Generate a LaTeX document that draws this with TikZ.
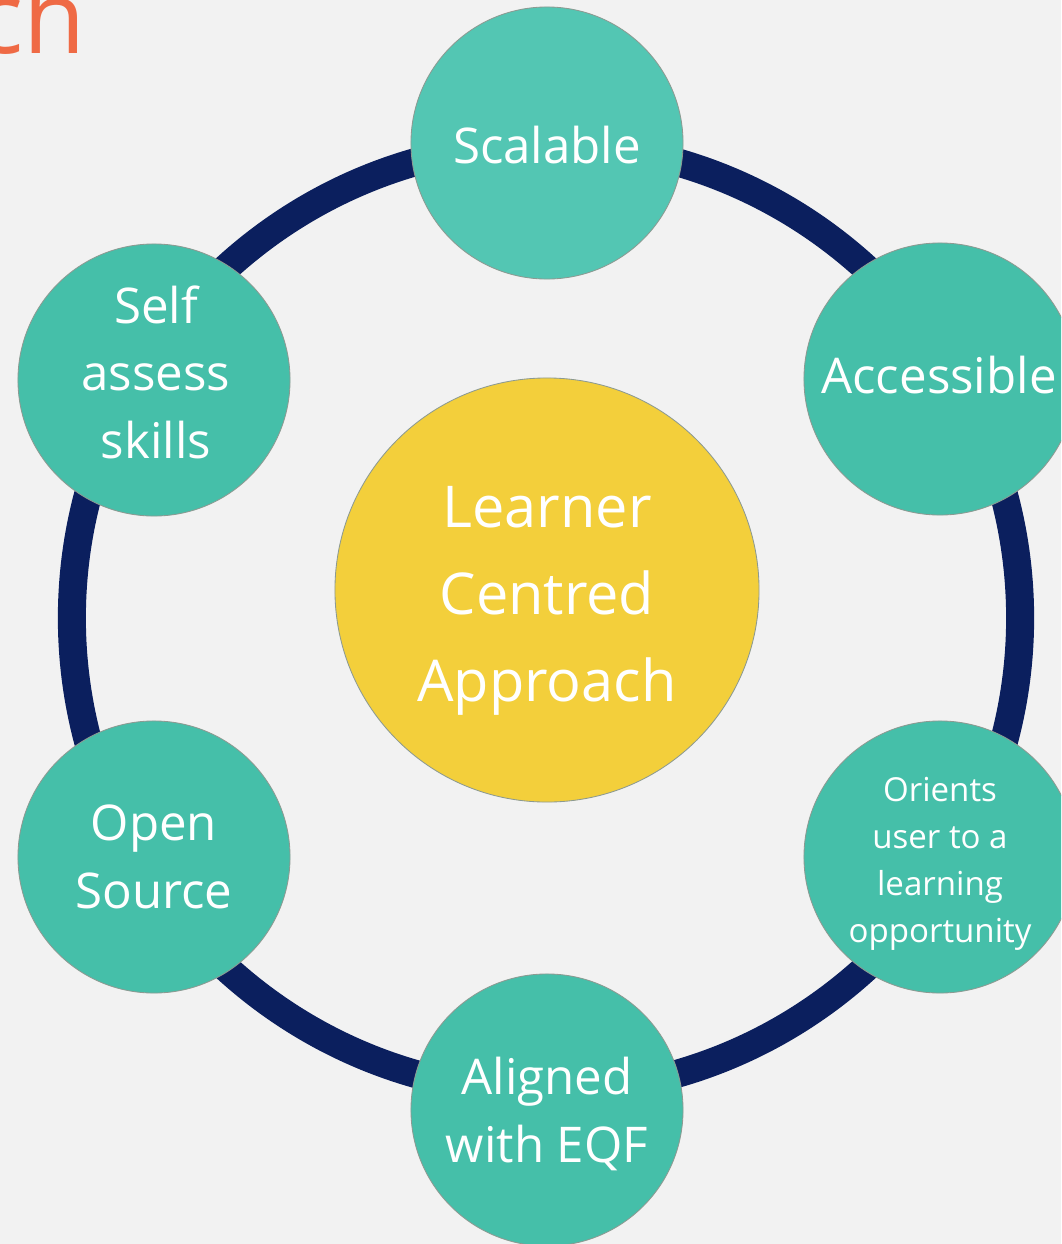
\documentclass[tikz,border=0pt]{standalone}
\usepackage{fontspec}
\setmainfont{Open Sans}
\definecolor{bgc}{HTML}{F2F2F2}
\definecolor{navy}{HTML}{0B1F5E}
\definecolor{tealA}{HTML}{45BFA9}
\definecolor{tealB}{HTML}{53C6B3}
\definecolor{sun}{HTML}{F3CF3B}
\definecolor{titlec}{HTML}{EF6A45}
\definecolor{rimc}{HTML}{8C9A92}
\tikzset{
  bubble/.style={circle, fill=tealA, draw=rimc, line width=0.6pt, minimum size=6.8cm, inner sep=0pt},
  words/.style={inner sep=0pt, text=white, align=center},
  bigfont/.style={font=\fontsize{35}{48}\selectfont},
  smallfont/.style={font=\fontsize{23.5}{33.5}\selectfont},
  hub/.style={circle, fill=sun, draw=rimc, line width=0.6pt, minimum size=10.6cm, inner sep=0pt},
  hubfont/.style={font=\fontsize{41}{62}\selectfont},
  ring/.style={draw=navy, line width=0.7cm}
}
\begin{document}
\begin{tikzpicture}[x=0.025cm, y=-0.025cm]
\useasboundingbox (0,0) rectangle (1061,1244);
\fill[bgc] (0,0) rectangle (1061,1244);
\clip (0,0) rectangle (1061,1244);
\node[anchor=base east, inner sep=0pt, text=titlec, font=\fontsize{72}{80}\selectfont] (title) at (86,53) {ch};
\coordinate (ringc) at (546,618);
\draw[ring] (ringc) circle[radius=11.85cm];
\node[hub] (center) at (547,590) {};
\node[bubble, fill=tealB] (scal) at (547,143) {};
\node[bubble] (self) at (154,380) {};
\node[bubble] (acc) at (940,379) {};
\node[bubble] (ori) at (940,857) {};
\node[bubble] (open) at (154,857) {};
\node[bubble] (eqf) at (547,1110) {};
\node[words, hubfont] (centertxt) at (547,601) {Learner\\Centred\\Approach};
\node[words, bigfont] (scaltxt) at (547,145) {Scalable};
\node[words, bigfont] (selftxt) at (156,372) {Self\\assess\\skills};
\node[words, bigfont] (acctxt) at (939,375) {Accessible};
\node[words, smallfont] (oritxt) at (940,864) {Orients\\user to a\\learning\\opportunity};
\node[words, bigfont] (opentxt) at (154,857) {Open\\Source};
\node[words, bigfont] (eqftxt) at (547,1114) {Aligned\\with EQF};
\end{tikzpicture}
\end{document}
